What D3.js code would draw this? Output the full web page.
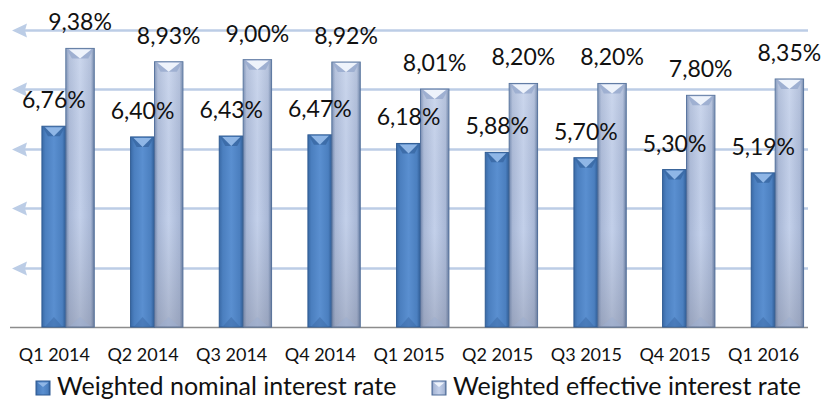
<!DOCTYPE html>
<html>
<head>
<meta charset="utf-8">
<script src="https://cdn.jsdelivr.net/npm/d3@7/dist/d3.min.js"></script>
<style>
html,body{margin:0;padding:0;background:#fff;}
svg{display:block;}
text{font-family:Lato,"Open Sans",sans-serif;fill:#111;}
</style>
</head>
<body>
<svg id="chart" width="824" height="401"></svg>
<script>
const categories = ["Q1 2014","Q2 2014","Q3 2014","Q4 2014","Q1 2015","Q2 2015","Q3 2015","Q4 2015","Q1 2016"];
const nominal = [6.76, 6.40, 6.43, 6.47, 6.18, 5.88, 5.70, 5.30, 5.19];
const effective = [9.38, 8.93, 9.00, 8.92, 8.01, 8.20, 8.20, 7.80, 8.35];
const seriesNames = ["Weighted nominal interest rate","Weighted effective interest rate"];
const yTicks = [0, 2, 4, 6, 8, 10];

const fmt = v => v.toFixed(2).replace(".", ",") + "%";

const svg = d3.select("#chart");
const plot = {left: 10, right: 808, top: 30, bottom: 327};

const x = d3.scaleBand().domain(categories).range([plot.left, plot.right]).padding(0);
const y = d3.scaleLinear().domain([0, 10]).range([plot.bottom, plot.top]);
const bw = x.bandwidth();

const defs = svg.append("defs");
const gN = defs.append("linearGradient").attr("id","gN").attr("x1","0").attr("x2","1").attr("y1","0").attr("y2","0");
[[0,"#3a6aa6"],[0.15,"#4b7fbf"],[0.5,"#5a8fd0"],[0.85,"#4b7fbf"],[1,"#2f5b93"]].forEach(s=>gN.append("stop").attr("offset",s[0]).attr("stop-color",s[1]));
const gE = defs.append("linearGradient").attr("id","gE").attr("x1","0").attr("x2","1").attr("y1","0").attr("y2","0");
[[0,"#6f86ad"],[0.12,"#a9b8d6"],[0.5,"#c3d0ea"],[0.88,"#a9b8d6"],[1,"#60789f"]].forEach(s=>gE.append("stop").attr("offset",s[0]).attr("stop-color",s[1]));
const gEv = defs.append("linearGradient").attr("id","gEv").attr("x1","0").attr("x2","0").attr("y1","0").attr("y2","1");
[[0,"#ffffff",0.15],[0.6,"#8e96ab",0.0],[1,"#7d8499",0.4]].forEach(s=>gEv.append("stop").attr("offset",s[0]).attr("stop-color",s[1]).attr("stop-opacity",s[2]));

// gridlines with arrow heads
const grid = svg.append("g");
yTicks.filter(t => t > 0).forEach(t => {
  const yy = Math.round(y(t)) + 0.5;
  grid.append("line").attr("x1", 18).attr("x2", plot.right).attr("y1", yy).attr("y2", yy)
    .attr("stroke", "#bccde6").attr("stroke-width", 2.5);
  grid.append("path").attr("d", `M12,${yy} L27,${yy-7} L25,${yy} L27,${yy+7} Z`).attr("fill", "#bccde6");
});
// baseline
svg.append("line").attr("x1", plot.left).attr("x2", plot.right)
  .attr("y1", plot.bottom + 0.5).attr("y2", plot.bottom + 0.5)
  .attr("stroke", "#8c8c8c").attr("stroke-width", 1.5);

const specs = [
  {vals: nominal, off: 0.36, w: 0.27, fill: "url(#gN)", stroke: "#2f5b93", bevel: "#8fb6e6", side: "#3b6aa6", cls: "nom"},
  {vals: effective, off: 0.63, w: 0.32, fill: "url(#gE)", stroke: "#4f6d99", bevel: "#eef3fb", side: "#9badcf", cls: "eff"}
];
const bars = svg.append("g");
const labels = svg.append("g");
specs.forEach((s, si) => {
  const data = categories.map((c, i) => ({c, v: s.vals[i]}));
  const g = bars.append("g").attr("class", s.cls);
  const grp = g.selectAll("g").data(data).join("g");
  grp.append("rect")
    .attr("x", d => x(d.c) + bw * s.off)
    .attr("y", d => y(d.v))
    .attr("width", bw * s.w)
    .attr("height", d => y(0) - y(d.v))
    .attr("fill", s.fill)
    .attr("stroke", s.stroke).attr("stroke-width", 1);
  if (si === 1) {
    grp.append("rect")
      .attr("x", d => x(d.c) + bw * s.off)
      .attr("y", d => y(d.v))
      .attr("width", bw * s.w)
      .attr("height", d => y(0) - y(d.v))
      .attr("fill", "url(#gEv)");
  }
  grp.append("path").attr("d", d => {
    const x0 = x(d.c) + bw * s.off + 1, x1 = x0 + bw * s.w - 2, t = y(d.v) + 1;
    return `M${x0},${t} L${x1},${t} L${x1-5},${t+9} L${x0+5},${t+9} Z`;
  }).attr("fill", s.side).attr("opacity", 0.9);
  grp.append("path").attr("d", d => {
    const x0 = x(d.c) + bw * s.off + 1, x1 = x0 + bw * s.w - 2, t = y(d.v) + 1, m = (x0 + x1) / 2;
    return `M${x0+2},${t} L${x1-2},${t} L${m},${t+9} Z`;
  }).attr("fill", s.bevel);
  grp.append("path").attr("d", d => {
    const x0 = x(d.c) + bw * s.off + 1, x1 = x0 + bw * s.w - 2, b = y(0) - 1, m = (x0 + x1) / 2;
    return `M${x0+3},${b} L${x1-3},${b} L${m},${b-9} Z`;
  }).attr("fill", s.side).attr("opacity", 0.5);

  labels.append("g").selectAll("text").data(data).join("text")
    .attr("x", d => x(d.c) + bw * (s.off + s.w / 2))
    .attr("y", d => y(d.v) - 18)
    .attr("text-anchor", "middle")
    .attr("font-size", 23)
    .text(d => fmt(d.v));
});

// x axis labels
const xAxis = d3.axisBottom(x).tickSize(0).tickPadding(0);
const ax = svg.append("g").attr("transform", `translate(0,${plot.bottom})`).call(xAxis);
ax.select(".domain").remove();
ax.selectAll("text").attr("font-size", 18).attr("font-family", "Lato").attr("fill", "#111")
  .attr("dy", 0).attr("y", 34);

// legend
const legend = svg.append("g");
const legItems = [
  {name: seriesNames[0], x: 36, fill: "url(#gN)", stroke: "#2f5b93", bevel: "#8fb6e6"},
  {name: seriesNames[1], x: 432, fill: "url(#gE)", stroke: "#4f6d99", bevel: "#eef3fb"}
];
legItems.forEach(l => {
  const g = legend.append("g").attr("transform", `translate(${l.x},381)`);
  g.append("rect").attr("width", 14).attr("height", 14).attr("fill", l.fill).attr("stroke", l.stroke);
  g.append("path").attr("d", "M1.5,1.5 L12.5,1.5 L7,6 Z").attr("fill", l.bevel);
  g.append("text").attr("x", 21).attr("y", 14).attr("font-size", 25).text(l.name);
});
</script>
</body>
</html>
